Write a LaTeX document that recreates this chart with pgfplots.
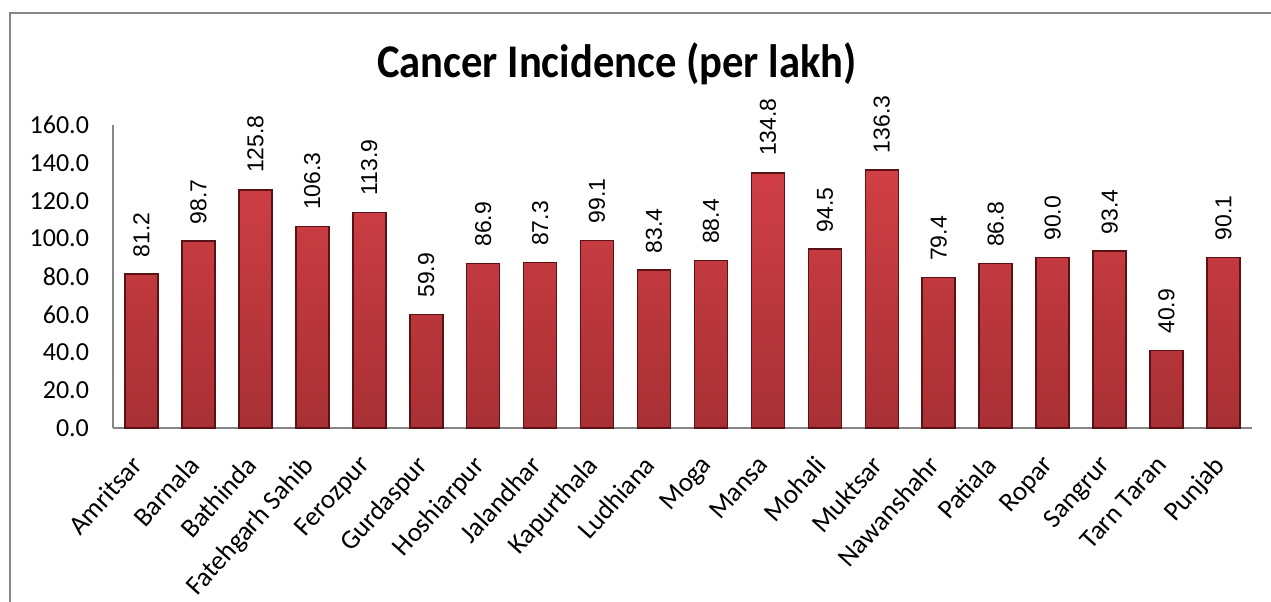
\documentclass[border=0pt]{standalone}
\usepackage{pgfplots}
\pgfplotsset{compat=1.18}
\usepackage{fontspec}
\setmainfont{Carlito}
\newfontfamily\arialfont{Liberation Sans}
\definecolor{framegray}{HTML}{868686}
\definecolor{bartop}{HTML}{D03F45}
\definecolor{barbot}{HTML}{A83034}
\definecolor{baredge}{HTML}{5C1214}
\begin{document}
\begin{tikzpicture}
\path[use as bounding box] (0,0) rectangle (635.5pt,300.5pt);
\draw[framegray, line width=0.8pt] (5pt,-1pt) -- (5pt,294pt) -- (637pt,294pt);
\node[anchor=base, font=\fontsize{21.3}{25}\selectfont\bfseries] at (308.5pt,261.5pt) {\scalebox{1}[1.1]{Cancer Incidence (per lakh)}};
\begin{axis}[
  at={(56.5pt,86.5pt)}, anchor=south west,
  scale only axis, width=569.5pt, height=151.5pt,
  xmin=-0.5, xmax=19.5, ymin=0, ymax=160,
  axis lines=left, axis line style={framegray, line width=0.75pt, -},
  ytick={0,20,...,160},
  major tick length=0pt,
  xtick=data,
  xticklabels={Amritsar,Barnala,Bathinda,Fatehgarh Sahib,Ferozpur,Gurdaspur,Hoshiarpur,Jalandhar,Kapurthala,Ludhiana,Moga,Mansa,Mohali,Muktsar,Nawanshahr,Patiala,Ropar,Sangrur,Tarn Taran,Punjab},
  xticklabel style={xshift=-6pt, yshift=-8pt, rotate=48, anchor=north east, font=\fontsize{13.5}{15}\selectfont},
  yticklabel style={font=\fontsize{13}{15}\selectfont, xshift=-8.5pt},
  /pgf/number format/assume math mode=true,
  yticklabel={\pgfmathprintnumber[fixed,fixed zerofill,precision=1]{\tick}},
  ybar, bar width=16.5pt,
  nodes near coords={\pgfmathprintnumber[fixed,fixed zerofill,precision=1,assume math mode=true]{\pgfplotspointmeta}},
  nodes near coords style={rotate=90, anchor=west, inner xsep=8pt, inner ysep=0pt, font=\arialfont\fontsize{11.5}{13}\selectfont, text=black},
  clip=false,
]
\addplot[draw=baredge, line width=0.8pt, top color=bartop, bottom color=barbot] coordinates {
(0,81.2) (1,98.7) (2,125.8) (3,106.3) (4,113.9) (5,59.9) (6,86.9) (7,87.3) (8,99.1) (9,83.4)
(10,88.4) (11,134.8) (12,94.5) (13,136.3) (14,79.4) (15,86.8) (16,90.0) (17,93.4) (18,40.9) (19,90.1)
};
\end{axis}
\end{tikzpicture}
\end{document}
